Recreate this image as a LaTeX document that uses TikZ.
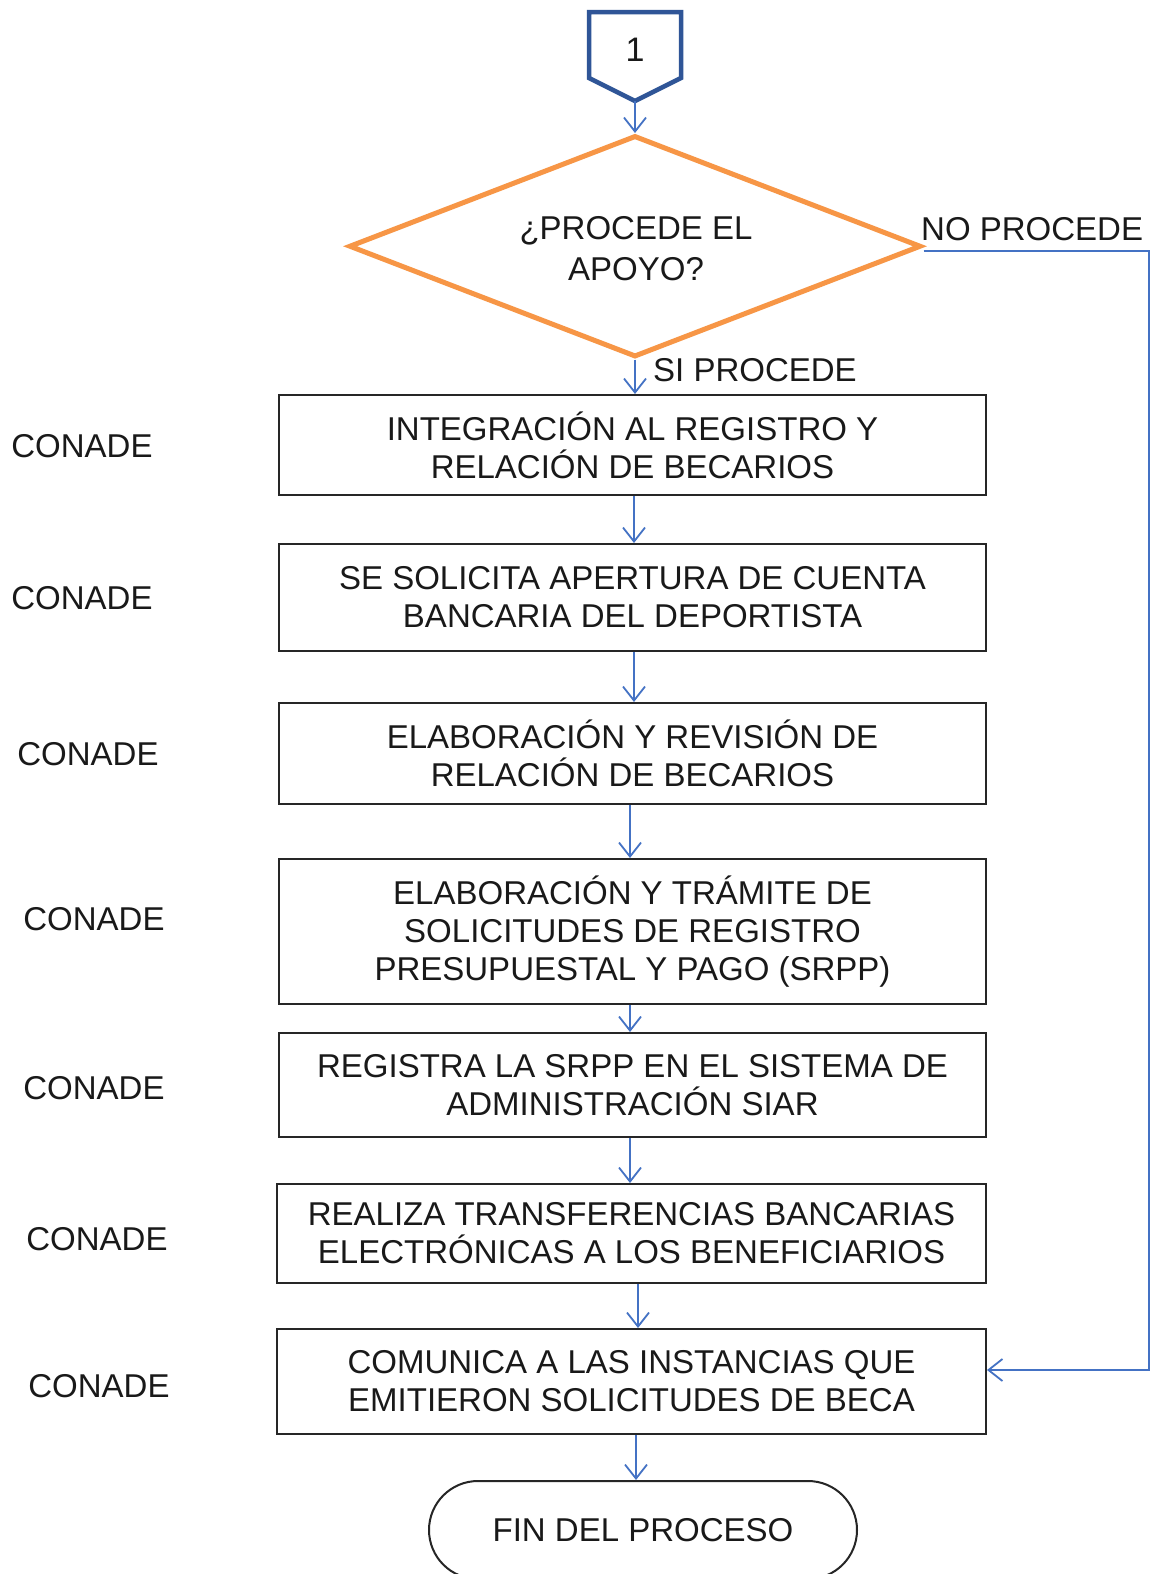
\documentclass[tikz,border=0pt]{standalone}
\usepackage{fontspec}
\setmainfont{Liberation Sans}
\usetikzlibrary{shapes.geometric,arrows.meta}
\definecolor{conblue}{RGB}{47,85,151}
\definecolor{arrblue}{RGB}{68,114,196}
\definecolor{dorange}{RGB}{247,150,70}
\definecolor{txt}{RGB}{25,25,25}
\newcommand\fsz{\fontsize{33}{38}\selectfont}
\tikzset{
  stepbox/.style={draw=black!85, line width=2pt, align=center, inner sep=0pt, font=\fsz, text=txt},
  lbl/.style={inner sep=0pt, font=\fsz, text=txt},
  arr/.style={draw=arrblue, line width=1.8pt, -{Straight Barb[length=14pt,width=22pt]}},
}
\begin{document}
\begin{tikzpicture}[x=1pt,y=-1pt]
\useasboundingbox (0,0) rectangle (1151,1574);
\fill[white] (0,0) rectangle (1151,1574);
\clip (0,0) rectangle (1151,1574);
% off-page connector
\path[draw=conblue, line width=4.5pt, line join=miter, fill=white]
  (589,12) -- (681,12) -- (681,78) -- (635,101) -- (589,78) -- cycle;
\node[lbl, font=\fontsize{34}{38}\selectfont] (c1) at (635,50) {1};
\coordinate (c1tip) at (635,101);
% decision
\node[diamond, aspect=2.58, draw=dorange, line width=5pt, minimum width=572, minimum height=221.5,
      inner sep=0pt] (d) at (635,246.25) {};
\node[lbl, align=center] (dq) at (636,249) {¿PROCEDE EL\\[3pt]APOYO?};
\node[lbl, anchor=west] (np) at (921,229) {NO PROCEDE};
\node[lbl, anchor=west] (sp) at (653,370) {SI PROCEDE};
% process boxes
\node[stepbox, minimum width=707, minimum height=100] (b1) at (632.5,445) {INTEGRACIÓN AL REGISTRO Y\\RELACIÓN DE BECARIOS};
\node[stepbox, minimum width=707, minimum height=107] (b2) at (632.5,597.5) {SE SOLICITA APERTURA DE CUENTA\\BANCARIA DEL DEPORTISTA};
\node[stepbox, minimum width=707, minimum height=101] (b3) at (632.5,753.5) {ELABORACIÓN Y REVISIÓN DE\\RELACIÓN DE BECARIOS};
\node[stepbox, minimum width=707, minimum height=145] (b4) at (632.5,931.5) {ELABORACIÓN Y TRÁMITE DE\\SOLICITUDES DE REGISTRO\\PRESUPUESTAL Y PAGO (SRPP)};
\node[stepbox, minimum width=707, minimum height=104] (b5) at (632.5,1085) {REGISTRA LA SRPP EN EL SISTEMA DE\\ADMINISTRACIÓN SIAR};
\node[stepbox, minimum width=709, minimum height=99] (b6) at (631.5,1233.5) {REALIZA TRANSFERENCIAS BANCARIAS\\ELECTRÓNICAS A LOS BENEFICIARIOS};
\node[stepbox, minimum width=709, minimum height=105] (b7) at (631.5,1381.5) {COMUNICA A LAS INSTANCIAS QUE\\EMITIERON SOLICITUDES DE BECA};
\node[stepbox, rounded corners=49pt, minimum width=428, minimum height=98] (t) at (643,1530) {FIN DEL PROCESO};
% side labels
\node[lbl] (l1) at (82,446) {CONADE};
\node[lbl] (l2) at (82,598) {CONADE};
\node[lbl] (l3) at (88,754) {CONADE};
\node[lbl] (l4) at (94,919) {CONADE};
\node[lbl] (l5) at (94,1088) {CONADE};
\node[lbl] (l6) at (97,1239) {CONADE};
\node[lbl] (l7) at (99,1386) {CONADE};
% connectors
\draw[arr] (c1tip) -- (d.north);
\draw[arr] (d.south) -- (d.south |- b1.north);
\draw[arr] ([xshift=1.5pt]b1.south) coordinate (a1) -- (a1 |- b2.north);
\draw[arr] ([xshift=1.5pt]b2.south) coordinate (a2) -- (a2 |- b3.north);
\draw[arr] ([xshift=-2.5pt]b3.south) coordinate (a3) -- (a3 |- b4.north);
\draw[arr] ([xshift=-2.5pt]b4.south) coordinate (a4) -- (a4 |- b5.north);
\draw[arr] ([xshift=-2.5pt]b5.south) coordinate (a5) -- (a5 |- b6.north);
\draw[arr] ([xshift=6.5pt]b6.south) coordinate (a6) -- (a6 |- b7.north);
\draw[arr] ([xshift=4.5pt]b7.south) coordinate (a7) -- (a7 |- t.north);
\coordinate (rc) at (1149,1370);
\draw[arr] ([yshift=-5pt]d.east) -| (rc) -- (rc -| b7.east);
\end{tikzpicture}
\end{document}
